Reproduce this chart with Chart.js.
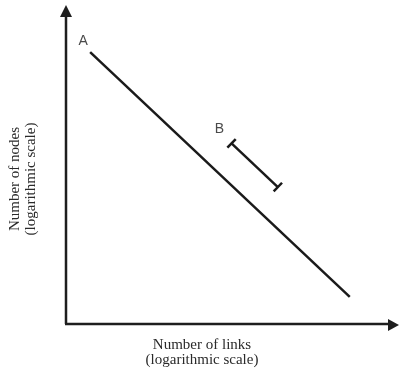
<!DOCTYPE html>
<html>
<head>
<meta charset="utf-8">
<script src="https://cdn.jsdelivr.net/npm/chart.js@4.4.1/dist/chart.umd.min.js"></script>
<style>
  body { margin: 0; background: #fff; }
  #wrap { width: 399px; height: 372px; }
</style>
</head>
<body>
<div id="wrap"><canvas id="chart"></canvas></div>
<script>
// data (both axes logarithmic)
const seriesNames = ['A', 'B'];
const linksA = [1.65, 360];
const nodesA = [360, 1.8];
const linksB = [31, 81];
const nodesB = [50, 19.4];
const xTitle = ['Number of links', '(logarithmic scale)'];
const yTitle = ['Number of nodes', '(logarithmic scale)'];

const toPoints = (xs, ys) => xs.map((x, i) => ({ x: x, y: ys[i] }));

// axis lines with arrow heads, titles and the A/B labels
const decor = {
  id: 'decor',
  afterDraw(chart) {
    const c = chart.ctx;
    const a = chart.chartArea;
    const left = a.left, bottom = a.bottom;
    c.save();
    c.strokeStyle = '#1e1e1e';
    c.fillStyle = '#1e1e1e';
    c.lineWidth = 2.5;
    c.beginPath();
    c.moveTo(left, bottom);
    c.lineTo(left, a.top + 8);
    c.moveTo(left - 1, bottom);
    c.lineTo(a.right - 8, bottom);
    c.stroke();
    // arrow heads
    c.beginPath();
    c.moveTo(left, a.top);
    c.lineTo(left - 6, a.top + 12);
    c.lineTo(left + 6, a.top + 12);
    c.closePath();
    c.fill();
    c.beginPath();
    c.moveTo(a.right, bottom + 1);
    c.lineTo(a.right - 11, bottom - 5);
    c.lineTo(a.right - 11, bottom + 7);
    c.closePath();
    c.fill();

    // axis titles
    c.fillStyle = '#2a2a2a';
    c.font = '15px "Liberation Serif", "Times New Roman", serif';
    c.textAlign = 'center';
    c.textBaseline = 'middle';
    c.fillText(xTitle[0], 202, 345);
    c.fillText(xTitle[1], 202, 360);
    c.translate(15, 179);
    c.rotate(-Math.PI / 2);
    c.fillText(yTitle[0], 0, 0);
    c.fillText(yTitle[1], 0, 16);
    c.restore();

    // series labels next to first point
    c.save();
    c.fillStyle = '#4a4a4a';
    c.font = '14px "Liberation Sans", Arial, sans-serif';
    c.textAlign = 'center';
    c.textBaseline = 'middle';
    const offs = [[-7, -11], [-12, -14]];
    chart.data.datasets.forEach((ds, i) => {
      const p = chart.getDatasetMeta(i).data[0];
      c.fillText(seriesNames[i], p.x + offs[i][0], p.y + offs[i][1]);
    });
    c.restore();
  }
};

new Chart(document.getElementById('chart'), {
  type: 'scatter',
  data: {
    datasets: [{
      label: seriesNames[0],
      data: toPoints(linksA, nodesA),
      showLine: true,
      borderColor: '#1a1a1a',
      borderWidth: 2.5,
      pointRadius: 0
    }, {
      label: seriesNames[1],
      data: toPoints(linksB, nodesB),
      showLine: true,
      borderColor: '#1a1a1a',
      borderWidth: 2.5,
      pointStyle: 'line',
      pointRadius: 6,
      pointRotation: -46,
      pointBorderWidth: 2.5,
      pointBorderColor: '#1a1a1a'
    }]
  },
  options: {
    responsive: true,
    maintainAspectRatio: false,
    animation: false,
    layout: { autoPadding: false, padding: { left: 66, top: 5, right: 0, bottom: 48 } },
    plugins: {
      legend: { display: false },
      tooltip: { enabled: false }
    },
    scales: {
      x: { type: 'logarithmic', min: 1, max: 1000, display: false },
      y: { type: 'logarithmic', min: 1, max: 1000, display: false }
    }
  },
  plugins: [decor]
});
</script>
</body>
</html>
